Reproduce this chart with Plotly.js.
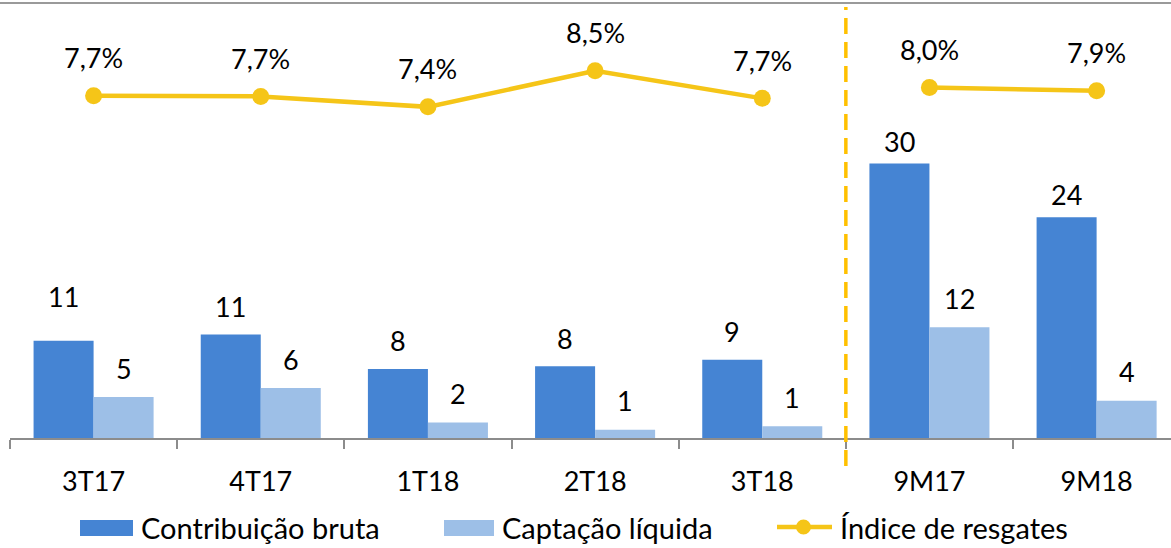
<!DOCTYPE html>
<html>
<head>
<meta charset="utf-8">
<script src="https://cdn.plot.ly/plotly-3.0.1.min.js"></script>
<style>
  html, body { margin: 0; padding: 0; background: #ffffff; }
  #chart { width: 1171px; height: 548px; }
</style>
</head>
<body>
<div id="chart"></div>
<script>
// ---- Data ----
const categories = ['3T17', '4T17', '1T18', '2T18', '3T18', '9M17', '9M18'];
const contribuicaoBruta = [10.7, 11.4, 7.6, 7.9, 8.6, 30.2, 24.3];
const captacaoLiquida = [4.5, 5.5, 1.7, 0.9, 1.3, 12.2, 4.1];
const indiceResgates = [7.74, 7.72, 7.4, 8.5, 7.66, 7.99, 7.89];
const seriesNames = ['Contribuição bruta', 'Captação líquida', 'Índice de resgates'];
const quarterlyCount = 5; // first 5 periods are quarters, rest are 9-month totals

// ---- Styles ----
const FONT = 'Lato, "Open Sans", sans-serif';
const DARK = '#4584D3';
const LIGHT = '#9DBFE7';
const YELLOW = '#F5C518';
const GOLD = '#FFC000';
const AXIS = '#8c8c8c';
const NUM_SIZE = 27;

// plot area geometry (pixels) for paper-coordinate helpers
const ML = 10, MT = 10, MB = 110, W = 1171, H = 548;
const PW = W - ML, PH = H - MT - MB;
const px2x = p => (p - ML) / PW;
const py2y = p => (H - MB - p) / PH;

const traces = [
  {
    type: 'bar', x: categories, y: contribuicaoBruta, name: seriesNames[0],
    marker: { color: DARK }, yaxis: 'y'
  },
  {
    type: 'bar', x: categories, y: captacaoLiquida, name: seriesNames[1],
    marker: { color: LIGHT }, yaxis: 'y'
  },
  {
    type: 'scatter', mode: 'lines+markers',
    x: categories.slice(0, quarterlyCount), y: indiceResgates.slice(0, quarterlyCount),
    name: seriesNames[2], yaxis: 'y2',
    line: { color: YELLOW, width: 4.5 }, marker: { color: YELLOW, size: 17 }
  },
  {
    type: 'scatter', mode: 'lines+markers',
    x: categories.slice(quarterlyCount), y: indiceResgates.slice(quarterlyCount),
    name: seriesNames[2], yaxis: 'y2',
    line: { color: YELLOW, width: 4.5 }, marker: { color: YELLOW, size: 17 }
  }
];

// data labels
const barHalf = 0.1795;
const darkShift = { 0: 44, 5: 22, 6: 23 };
const annotations = [];
categories.forEach((c, i) => {
  annotations.push({
    x: i - barHalf, y: contribuicaoBruta[i], xref: 'x', yref: 'y',
    text: String(Math.round(contribuicaoBruta[i])), showarrow: false,
    yanchor: 'middle', yshift: (darkShift[i] !== undefined ? darkShift[i] : 28),
    font: { family: FONT, size: NUM_SIZE, color: '#000' }
  });
  annotations.push({
    x: i + barHalf, y: captacaoLiquida[i], xref: 'x', yref: 'y',
    text: String(Math.round(captacaoLiquida[i])), showarrow: false,
    yanchor: 'middle', yshift: 29,
    font: { family: FONT, size: NUM_SIZE, color: '#000' }
  });
  annotations.push({
    x: i, y: indiceResgates[i], xref: 'x', yref: 'y2',
    text: indiceResgates[i].toFixed(1).replace('.', ',') + '%', showarrow: false,
    yanchor: 'middle', yshift: 38,
    font: { family: FONT, size: NUM_SIZE, color: '#000' }
  });
});

// custom legend text
const legendText = [[139, seriesNames[0]], [500, seriesNames[1]], [838, seriesNames[2]]];
legendText.forEach(([p, t]) => {
  annotations.push({
    x: px2x(p), y: py2y(527), xref: 'paper', yref: 'paper',
    xanchor: 'left', yanchor: 'middle', text: t, showarrow: false,
    font: { family: FONT, size: 29, color: '#000' }
  });
});

const shapes = [
  // top frame line
  { type: 'line', xref: 'paper', yref: 'paper', x0: px2x(0), x1: px2x(1171), y0: py2y(3), y1: py2y(3),
    line: { color: '#9a9a9a', width: 2 } },
  // dashed separator between quarters and 9M
  { type: 'line', xref: 'x', yref: 'paper', x0: quarterlyCount - 0.5, x1: quarterlyCount - 0.5,
    y0: py2y(466), y1: py2y(7), line: { color: GOLD, width: 3.5, dash: '16px,8px' } },
  // legend symbols
  { type: 'rect', xref: 'paper', yref: 'paper', x0: px2x(80), x1: px2x(133), y0: py2y(536), y1: py2y(520),
    fillcolor: DARK, line: { width: 0 } },
  { type: 'rect', xref: 'paper', yref: 'paper', x0: px2x(444), x1: px2x(494), y0: py2y(536), y1: py2y(520),
    fillcolor: LIGHT, line: { width: 0 } },
  { type: 'line', xref: 'paper', yref: 'paper', x0: px2x(777), x1: px2x(832), y0: py2y(527), y1: py2y(527),
    line: { color: YELLOW, width: 4.5 } },
  { type: 'circle', xref: 'paper', yref: 'paper', x0: px2x(796), x1: px2x(811), y0: py2y(534.5), y1: py2y(519.5),
    fillcolor: YELLOW, line: { width: 0 } }
];

const layout = {
  width: W, height: H,
  margin: { l: ML, r: 0, t: MT, b: MB, pad: 0 },
  paper_bgcolor: '#ffffff', plot_bgcolor: '#ffffff',
  showlegend: false,
  barmode: 'group', bargap: 0.282, bargroupgap: 0,
  font: { family: FONT, color: '#000' },
  xaxis: {
    type: 'category', range: [-0.5, 6.445],
    showline: true, linecolor: AXIS, linewidth: 2,
    ticks: 'outside', tickson: 'boundaries', ticklen: 9, tickwidth: 2, tickcolor: AXIS,
    showgrid: false, zeroline: false,
    tickfont: { family: FONT, size: NUM_SIZE, color: '#000' },
    ticklabelstandoff: 19
  },
  yaxis: { range: [0, 47.1], visible: false, showgrid: false, zeroline: false },
  yaxis2: { range: [-2.72, 10.36], overlaying: 'y', visible: false, showgrid: false, zeroline: false },
  annotations: annotations,
  shapes: shapes
};

Plotly.newPlot('chart', traces, layout, { displayModeBar: false, staticPlot: true });
</script>
</body>
</html>
